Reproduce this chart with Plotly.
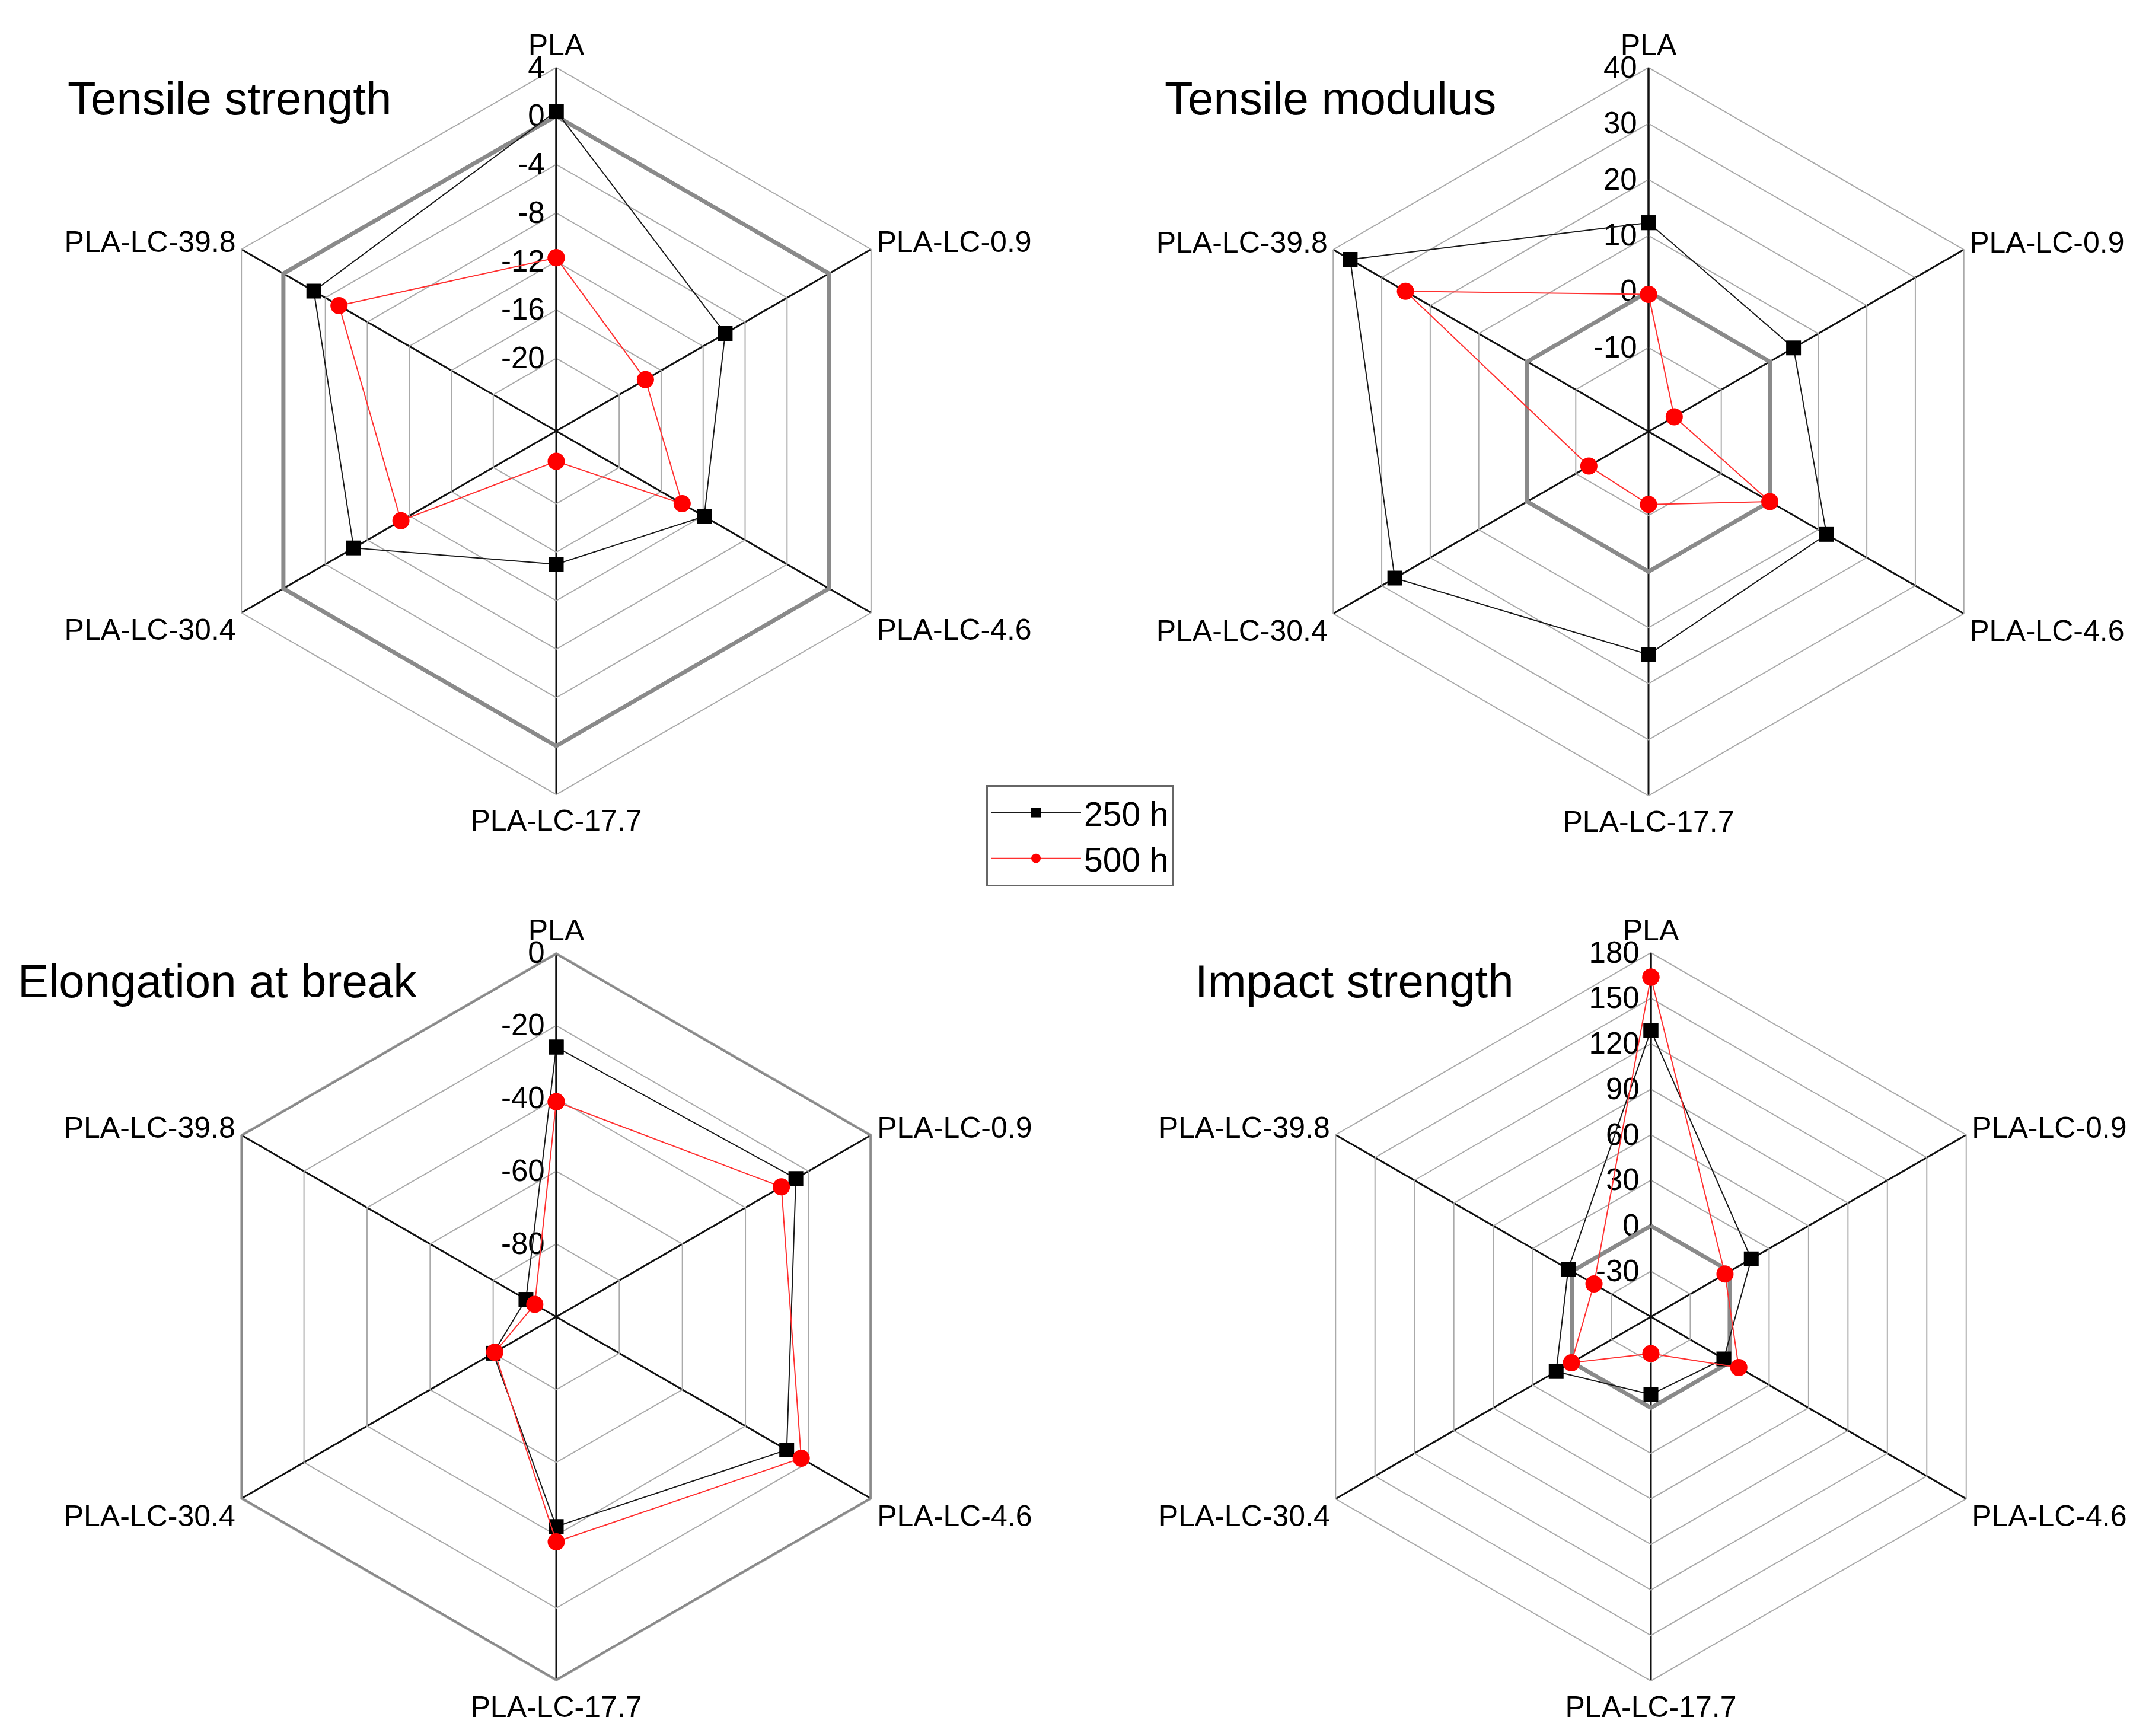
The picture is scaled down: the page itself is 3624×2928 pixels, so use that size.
import plotly.graph_objects as go

categories = ["PLA", "PLA-LC-0.9", "PLA-LC-4.6", "PLA-LC-17.7", "PLA-LC-30.4", "PLA-LC-39.8"]
series_names = ["250 h", "500 h"]

# Tensile strength
ts_250 = [0.4, -9.9, -11.9, -15.0, -6.7, -2.9]
ts_500 = [-11.7, -17.5, -14.0, -23.5, -11.2, -5.3]
ts_ticks = [4, 0, -4, -8, -12, -16, -20]
ts_range = [-26, 4]

# Tensile modulus
tm_250 = [12.3, 4.9, 11.7, 14.8, 27.3, 36.5]
tm_500 = [-0.5, -19.7, 0.0, -12.0, -12.7, 25.1]
tm_ticks = [40, 30, 20, 10, 0, -10]
tm_range = [-25, 40]

# Elongation at break
eb_250 = [-25.9, -24.0, -26.9, -42.4, -80.0, -90.4]
eb_500 = [-40.9, -28.6, -22.3, -38.2, -80.5, -93.2]
eb_ticks = [0, -20, -40, -60, -80]
eb_range = [-100, 0]

# Impact strength
is_250 = [128.9, 16.4, -4.5, -8.8, 12.1, 2.9]
is_500 = [164.0, -3.6, 6.9, -35.8, 0.5, -16.7]
is_ticks = [180, 150, 120, 90, 60, 30, 0, -30]
is_range = [-60, 180]

titles = ["Tensile strength", "Tensile modulus", "Elongation at break", "Impact strength"]
zero_line = [0, 0, 0, 0, 0, 0]

# page offset (html body margin) and figure size
OFF = 8
W, H = 3624 - 2 * OFF, 2928 - 2 * OFF
FONT = "Liberation Sans, Arial, sans-serif"


def px(X):
    return (X - OFF) / W


def py(Y):
    return 1 - (Y - OFF) / H


panels = [
    dict(d250=ts_250, d500=ts_500, ticks=ts_ticks, rng=ts_range, cx=938, cy=727, R=613),
    dict(d250=tm_250, d500=tm_500, ticks=tm_ticks, rng=tm_range, cx=2780, cy=728, R=614),
    dict(d250=eb_250, d500=eb_500, ticks=eb_ticks, rng=eb_range, cx=938, cy=2221, R=614),
    dict(d250=is_250, d500=is_500, ticks=is_ticks, rng=is_range, cx=2784, cy=2221, R=614),
]
title_pos = [(112, 166), (1962, 166), (28, 1655), (2013, 1655)]

fig = go.Figure()
theta = categories + [categories[0]]


def closed(v):
    return list(v) + [v[0]]


layout_polars = {}
for i, p in enumerate(panels):
    name = "polar" if i == 0 else f"polar{i+1}"
    fig.add_trace(go.Scatterpolar(
        r=closed(zero_line), theta=theta, mode="lines", subplot=name,
        line=dict(color="#8a8a8a", width=7), showlegend=False, hoverinfo="skip",
        cliponaxis=True))
    fig.add_trace(go.Scatterpolar(
        r=closed(p["d250"]), theta=theta, mode="lines+markers", subplot=name,
        name=series_names[0], showlegend=(i == 0), cliponaxis=True,
        line=dict(color="#1a1a1a", width=2),
        marker=dict(symbol="square", size=25, color="black")))
    fig.add_trace(go.Scatterpolar(
        r=closed(p["d500"]), theta=theta, mode="lines+markers", subplot=name,
        name=series_names[1], showlegend=(i == 0), cliponaxis=True,
        line=dict(color="#ff3030", width=2),
        marker=dict(symbol="circle", size=29, color="#ff0000")))
    layout_polars[name] = dict(
        domain=dict(x=[px(p["cx"] - p["R"]), px(p["cx"] + p["R"])],
                    y=[py(p["cy"] + p["R"]), py(p["cy"] - p["R"])]),
        gridshape="linear",
        bgcolor="white",
        angularaxis=dict(
            type="category", categoryarray=categories, rotation=90, direction="clockwise",
            showgrid=True, gridcolor="#111111", gridwidth=3,
            showline=True, linecolor="#aaaaaa", linewidth=2,
            ticks="", tickfont=dict(size=50, color="black", family=FONT),
            layer="below traces"),
        radialaxis=dict(
            range=p["rng"], tickvals=p["ticks"], ticktext=[str(t) for t in p["ticks"]],
            angle=90, side="counterclockwise", tickangle=90,
            showgrid=True, gridcolor="#aaaaaa", gridwidth=2,
            showline=True, linecolor="#111111", linewidth=3,
            ticks="", tickfont=dict(size=51, color="black", family=FONT),
            layer="below traces"),
    )

annotations = []
for t, (tx, ty) in zip(titles, title_pos):
    annotations.append(dict(
        text=t, x=px(tx), y=py(ty), xref="paper", yref="paper",
        xanchor="left", yanchor="middle", showarrow=False,
        font=dict(size=78, color="black", family=FONT)))

fig.update_layout(
    width=W, height=H,
    margin=dict(l=0, r=0, t=0, b=0),
    paper_bgcolor="white", plot_bgcolor="white",
    font=dict(family=FONT, color="black"),
    showlegend=True,
    legend=dict(
        x=px(1663), y=py(1324), xanchor="left", yanchor="top",
        bordercolor="#666666", borderwidth=3, bgcolor="white",
        font=dict(size=57, color="black", family=FONT),
        itemwidth=152, tracegroupgap=0, itemsizing="trace"),
    annotations=annotations,
    **layout_polars,
)

fig.write_html("out.html")
